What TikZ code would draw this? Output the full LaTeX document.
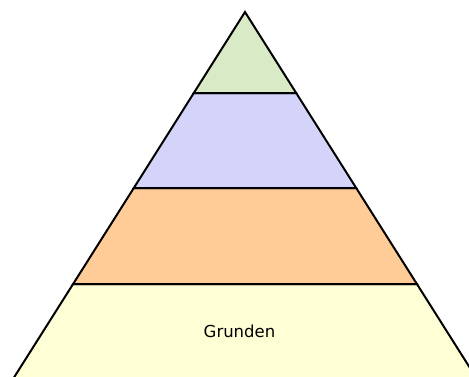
\documentclass[tikz,border=0pt]{standalone}
\usepackage{fontspec}
\setmainfont{DejaVu Sans}
\definecolor{lvgreen}{HTML}{D9EBC6}
\definecolor{lvblue}{HTML}{D4D4FB}
\definecolor{lvorange}{HTML}{FFCB96}
\definecolor{lvyellow}{HTML}{FFFFD6}
\tikzset{band/.style={draw=black, line width=2pt, line join=miter}}
\begin{document}
\begin{tikzpicture}[x=1pt,y=-1pt]
\useasboundingbox (0,0) rectangle (469,376);
\clip (0,0) rectangle (469,376);
\fill[white] (0,0) rectangle (469,376);
\draw[band, fill=lvyellow] (73.1,284) -- (416.9,284) -- (477.6,380) -- (12.4,380) -- cycle;
\draw[band, fill=lvorange] (133.8,188) -- (356.2,188) -- (416.9,284) -- (73.1,284) -- cycle;
\draw[band, fill=lvblue] (193.8,93) -- (296.2,93) -- (356.2,188) -- (133.8,188) -- cycle;
\draw[band, fill=lvgreen] (245,12) -- (296.2,93) -- (193.8,93) -- cycle;
\node[font=\fontsize{16.5}{20}\selectfont, inner sep=0pt] (grunden) at (239.5,331) {Grunden};
\end{tikzpicture}
\end{document}
